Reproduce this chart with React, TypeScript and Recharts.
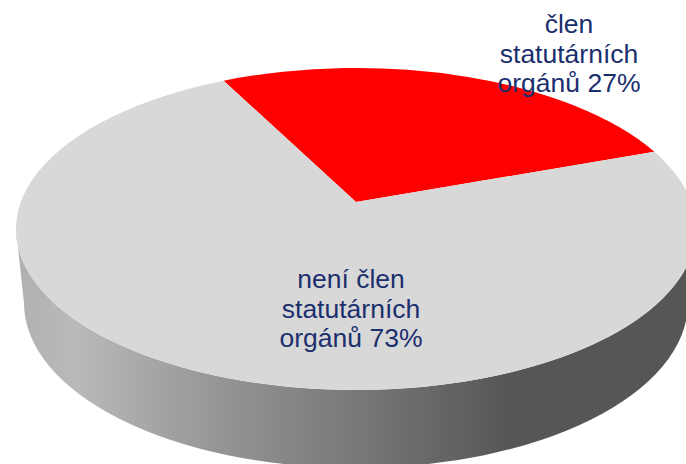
import { PieChart, Pie } from 'recharts';

const categories = ['člen statutárních orgánů', 'není člen statutárních orgánů'];
const values = [27, 73];
const colours = ['#ff0000', '#d8d8d8'];

// tilt of the top face: rim ellipse height and how far the apex sits above its centre
const RY = 161;
const K = 27 / 161;
const WALL = { cyOffset: 74, rx: 332, ry: 165 };
const LABEL_POS = [{ x: 569, y: 33 }, { x: 351, y: 288 }];

const project = (cx: number, cy: number, r: number, deg: number) => {
  const u = Math.cos((deg * Math.PI) / 180);
  const v = Math.sin((deg * Math.PI) / 180);
  const w = 1 + K * v;
  return {
    x: cx + (r * Math.sqrt(1 - K * K) * u) / w,
    y: cy - (RY * (v + K)) / w,
  };
};

const PerspectiveSlice = (props: any) => {
  const { cx, cy, outerRadius, startAngle, endAngle, fill, index } = props;
  const apexY = cy - RY * K;
  const from = project(cx, cy, outerRadius, startAngle);
  const to = project(cx, cy, outerRadius, endAngle);
  const large = Math.abs(startAngle - endAngle) > 180 ? 1 : 0;
  const top = `M${cx},${apexY}L${from.x},${from.y}A${outerRadius},${RY} 0 ${large} 1 ${to.x},${to.y}Z`;
  const wallCy = cy + WALL.cyOffset;
  const wall =
    `M${cx - outerRadius},${cy}L${cx - WALL.rx},${wallCy}` +
    `A${WALL.rx},${WALL.ry} 0 0 0 ${cx + WALL.rx},${wallCy}` +
    `L${cx + outerRadius},${cy}` +
    `A${outerRadius},${RY} 0 0 1 ${cx - outerRadius},${cy}Z`;
  return (
    <g>
      {index === 1 && (
        <>
          <defs>
            <linearGradient id="wallFill" gradientUnits="userSpaceOnUse" x1={16} y1={0} x2={510} y2={0}>
              <stop offset="0" stopColor="#b0b0b0" />
              <stop offset="0.12" stopColor="#bababa" />
              <stop offset="0.4" stopColor="#969696" />
              <stop offset="0.7" stopColor="#777777" />
              <stop offset="1" stopColor="#565656" />
            </linearGradient>
          </defs>
          <path d={wall} fill="url(#wallFill)" />
        </>
      )}
      <path d={top} fill={fill} />
    </g>
  );
};

const renderLabel = (props: any) => {
  const { index, value } = props;
  const words = categories[index].split(' ');
  const head = words.slice(0, -2).join(' ');
  const lines = [head, words[words.length - 2], `${words[words.length - 1]} ${value}%`].filter(Boolean);
  const pos = LABEL_POS[index];
  return (
    <text x={pos.x} y={pos.y} textAnchor="middle" fontFamily="'Liberation Sans', Arial, sans-serif" fontSize={26.5} fill="#1b2f6e">
      {lines.map((line, i) => (
        <tspan key={line} x={pos.x} y={pos.y + i * 29.5}>
          {line}
        </tspan>
      ))}
    </text>
  );
};

const data = categories.map((name, i) => ({ name, value: values[i], fill: colours[i] }));

export default function App() {
  return (
    <div style={{ position: 'absolute', left: 0, top: 0, width: 686, height: 464, overflow: 'hidden', background: '#fff' }}>
      <PieChart width={686} height={464} margin={{ top: 0, right: 0, bottom: 0, left: 0 }}>
        <Pie
          data={data}
          dataKey="value"
          cx={356}
          cy={229}
          innerRadius={0}
          outerRadius={340}
          startAngle={117}
          endAngle={-243}
          stroke="none"
          shape={PerspectiveSlice}
          label={renderLabel}
          labelLine={false}
          isAnimationActive={false}
        />
      </PieChart>
    </div>
  );
}
